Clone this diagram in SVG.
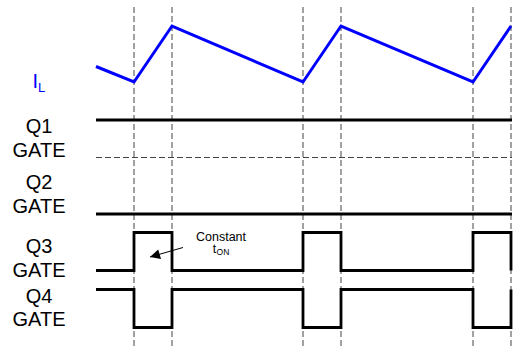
<svg xmlns="http://www.w3.org/2000/svg" width="514" height="346" viewBox="0 0 514 346">
<style>
.lbl{font-family:"Liberation Sans",Arial,sans-serif;font-size:20px;fill:#000;text-anchor:middle}
.grid{stroke:#444;stroke-width:1;stroke-dasharray:6,3;fill:none}
.wave{stroke:#000;stroke-width:2.8;fill:none;stroke-linejoin:miter}
.il{stroke:#0000FF;stroke-width:3;fill:none;stroke-linejoin:miter}
.note{font-family:"Liberation Sans",Arial,sans-serif;font-size:12.5px;fill:#000;text-anchor:middle}
</style>
<defs>
<marker id="ah" viewBox="0 0 10 10" refX="10" refY="5" markerWidth="16" markerHeight="10" markerUnits="userSpaceOnUse" orient="auto">
<path d="M0,0 L10,5 L0,10 Z" fill="#000"/>
</marker>
</defs>
<g id="gridlines">
<line class="grid" x1="134" y1="7" x2="134" y2="346"/>
<line class="grid" x1="172" y1="7" x2="172" y2="346"/>
<line class="grid" x1="303" y1="7" x2="303" y2="346"/>
<line class="grid" x1="341" y1="7" x2="341" y2="346"/>
<line class="grid" x1="473" y1="7" x2="473" y2="346"/>
<line class="grid" x1="511" y1="7" x2="511" y2="346"/>
<line class="grid" x1="96" y1="157.5" x2="512" y2="157.5" stroke="#666"/>
</g>
<g id="IL">
<text x="32.5" y="88" font-family="Liberation Sans, Arial, sans-serif" font-size="20" fill="#0000FF">I<tspan font-size="13" dy="3.5">L</tspan></text>
<polyline class="il" points="96,66.5 134,82 172,26 303,82 341,26 473,82 511,26"/>
</g>
<g id="Q1">
<text class="lbl" x="39" y="133">Q1</text>
<text class="lbl" x="39" y="157">GATE</text>
<line class="wave" x1="96" y1="120" x2="512" y2="120"/>
</g>
<g id="Q2">
<text class="lbl" x="39" y="189">Q2</text>
<text class="lbl" x="39" y="213">GATE</text>
<line class="wave" x1="96" y1="214" x2="512" y2="214"/>
</g>
<g id="Q3">
<text class="lbl" x="39" y="253">Q3</text>
<text class="lbl" x="39" y="277">GATE</text>
<polyline class="wave" points="96,270.5 134,270.5 134,232.5 172,232.5 172,270.5 303,270.5 303,232.5 341,232.5 341,270.5 473,270.5 473,232.5 511,232.5 511,270.5"/>
</g>
<g id="Q4">
<text class="lbl" x="39" y="302.5">Q4</text>
<text class="lbl" x="39" y="326">GATE</text>
<polyline class="wave" points="96,289.5 134,289.5 134,327.5 172,327.5 172,289.5 303,289.5 303,327.5 341,327.5 341,289.5 473,289.5 473,327.5 511,327.5 511,289.5"/>
</g>
<g id="annotation">
<text class="note" x="221" y="241">Constant</text>
<text class="note" x="221" y="252.5">t<tspan font-size="8.5" dx="0.5" dy="2.5">ON</tspan></text>
<line x1="183" y1="247.5" x2="150" y2="257" stroke="#000" stroke-width="1" marker-end="url(#ah)"/>
</g>
</svg>
